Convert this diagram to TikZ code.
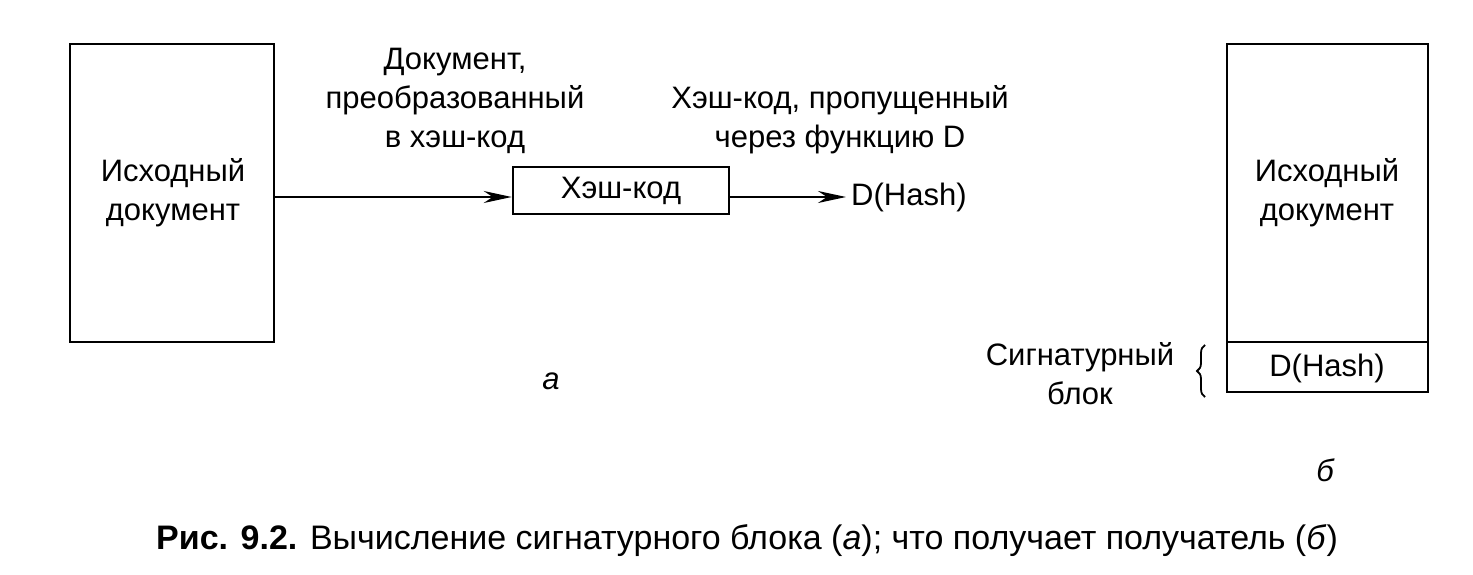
\documentclass[tikz,border=0pt]{standalone}
\usepackage{fontspec}
\setmainfont{Liberation Sans}
\usetikzlibrary{arrows.meta,decorations.pathreplacing}
\begin{document}
\begin{tikzpicture}[x=1pt,y=-1pt,
  box/.style={draw,line width=2.6pt,inner sep=0pt},
  txt/.style={font=\fontsize{31}{39}\selectfont},
  lbl/.style={txt,align=center,inner sep=0pt},
  arr/.style={line width=2pt,-{Stealth[length=28pt,width=12pt,inset=9pt]}}]
\useasboundingbox (0,0) rectangle (1473,575);
% part a
\draw[box] (70,44) rectangle (274,342);
\node[lbl] (srcA) at (173,193) {Исходный\\документ};
\coordinate (srcAout) at (274,197);
\node[box,txt,minimum width=216pt,minimum height=47pt] (hash) at (621,190.5) {Хэш-код};
\draw[arr] (srcAout) -- (hash.west |- srcAout);
\node[lbl,anchor=west] (dh) at (851,197) {D(Hash)};
\draw[arr] (hash.east |- srcAout) -- ([xshift=-5pt]dh.west);
\node[lbl] (l1) at (455,101) {Документ,\\преобразованный\\в хэш-код};
\node[lbl] (l2) at (840,120) {Хэш-код, пропущенный\\через функцию D};
\node[lbl,font=\fontsize{31}{39}\selectfont\itshape] (a) at (551,381) {а};
% part b
\draw[box] (1227,44) rectangle (1428,392);
\draw[box] (1227,342) -- (1428,342);
\node[lbl] (srcB) at (1327,193) {Исходный\\документ};
\node[lbl] (dhB) at (1327,368) {D(Hash)};
\coordinate (brB) at (1205,397);
\coordinate (brT) at (1205,345);
\draw[line width=1.8pt,decorate,decoration={brace,amplitude=8pt}] (brB) -- (brT);
\node[lbl] (sig) at (1080,374) {Сигнатурный\\блок};
\node[lbl,font=\fontsize{31}{39}\selectfont\itshape] (b) at (1325,470) {б};
% caption
\node[inner sep=0pt,font=\fontsize{34}{38}\selectfont] (cap) at (747,541) {\textbf{Рис. 9.2.} Вычисление сигнатурного блока (\textit{а}); что получает получатель (\textit{б})};
\end{tikzpicture}
\end{document}
